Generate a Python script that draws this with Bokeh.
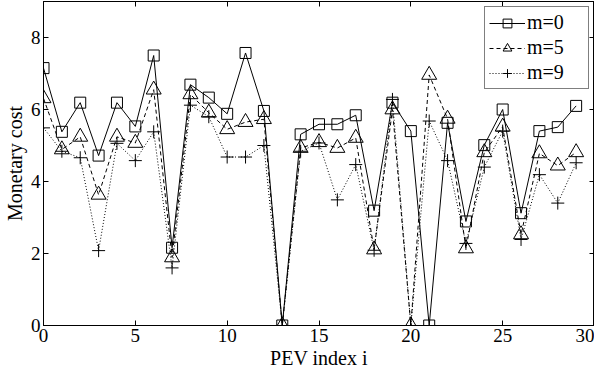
from bokeh.plotting import figure
from bokeh.models import LinearAxis, Range1d, FixedTicker, Legend, LegendItem
from bokeh.embed import file_html
from bokeh.resources import INLINE

pev_index = list(range(30))
cost_m0 = [7.15, 5.38, 6.19, 4.72, 6.19, 5.53, 7.50, 2.16, 6.69, 6.33,
           5.88, 7.57, 5.96, 0.0, 5.31, 5.59, 5.59, 5.84, 3.19, 6.19,
           5.40, 0.0, 5.63, 2.89, 5.01, 6.00, 3.12, 5.40, 5.51, 6.10]
cost_m5 = [6.31, 4.89, 5.24, 3.63, 5.24, 5.07, 6.55, 1.89, 6.42, 5.91,
           5.45, 5.65, 5.73, 0.0, 4.93, 5.09, 4.93, 5.21, 2.11, 6.00,
           0.0, 6.96, 5.74, 2.14, 4.81, 5.52, 2.53, 4.78, 4.44, 4.81]
cost_m9 = [5.49, 4.84, 4.66, 2.08, 5.06, 4.58, 5.38, 1.60, 6.12, 5.80,
           4.68, 4.68, 5.00, 0.0, 4.84, 5.07, 3.49, 4.47, 2.09, 6.28,
           0.0, 5.68, 4.58, 2.28, 4.40, 5.40, 2.39, 4.19, 3.40, 4.52]
x_ticks = [0, 5, 10, 15, 20, 25, 30]
y_ticks = [0, 2, 4, 6, 8]
labels = ["m=0", "m=5", "m=9"]

FONT = "Liberation Serif"

p = figure(width=594, height=371, output_backend="svg", toolbar_location=None,
           x_range=Range1d(0, 30), y_range=Range1d(0, 9),
           min_border_left=34, min_border_right=0, min_border_top=1, min_border_bottom=42)
p.grid.visible = False
p.outline_line_color = "black"
p.outline_line_width = 1
p.background_fill_color = "white"
p.border_fill_color = "white"

for ax, ticks in ((p.xaxis[0], x_ticks), (p.yaxis[0], y_ticks)):
    ax.ticker = FixedTicker(ticks=ticks)
    ax.major_tick_in = 5
    ax.major_tick_out = 0
    ax.minor_tick_line_color = None
    ax.major_label_text_font = FONT
    ax.major_label_text_font_size = "19px"
    ax.major_label_text_color = "black"
    ax.axis_label_text_font = FONT
    ax.axis_label_text_font_size = "20px"
    ax.axis_label_text_font_style = "normal"
    ax.axis_label_text_color = "black"
    ax.axis_line_color = "black"
    ax.major_tick_line_color = "black"

p.xaxis.axis_label = "PEV index i"
p.yaxis.axis_label = "Monetary cost"
p.xaxis.major_label_standoff = 3
p.xaxis.axis_label_standoff = 2
p.yaxis.major_label_standoff = 3
p.yaxis.axis_label_standoff = 2

top = LinearAxis(ticker=FixedTicker(ticks=x_ticks), major_tick_in=5, major_tick_out=0,
                 minor_tick_line_color=None, major_label_text_font_size="0px",
                 major_label_text_color=None, major_label_standoff=0)
right = LinearAxis(ticker=FixedTicker(ticks=y_ticks), major_tick_in=5, major_tick_out=0,
                   minor_tick_line_color=None, major_label_text_font_size="0px",
                   major_label_text_color=None, major_label_standoff=0)
p.add_layout(top, "above")
p.add_layout(right, "right")

styles = [("solid", "square", 11), ("4 3", "triangle", 15), ("1 2", "cross", 13)]
items = []
for ys, lab, (dash, marker, size) in zip((cost_m0, cost_m5, cost_m9), labels, styles):
    ln = p.line(pev_index, ys, line_color="black", line_width=1, line_dash=dash)
    sc = p.scatter(pev_index, ys, marker=marker, size=size, line_color="black",
                   fill_color=None, line_width=1)
    items.append(LegendItem(label=lab, renderers=[ln, sc]))

legend = Legend(items=items, location="top_right")
legend.label_text_font = FONT
legend.label_text_font_size = "20px"
legend.label_text_color = "black"
legend.border_line_color = "black"
legend.border_line_width = 1
legend.background_fill_color = "white"
legend.background_fill_alpha = 1
legend.padding = 4
legend.spacing = 2
legend.margin = 5
legend.glyph_width = 36
legend.glyph_height = 22
legend.label_height = 22
legend.label_width = 57
legend.label_standoff = 2
p.add_layout(legend)

open("out.html", "w").write(file_html(p, INLINE))
